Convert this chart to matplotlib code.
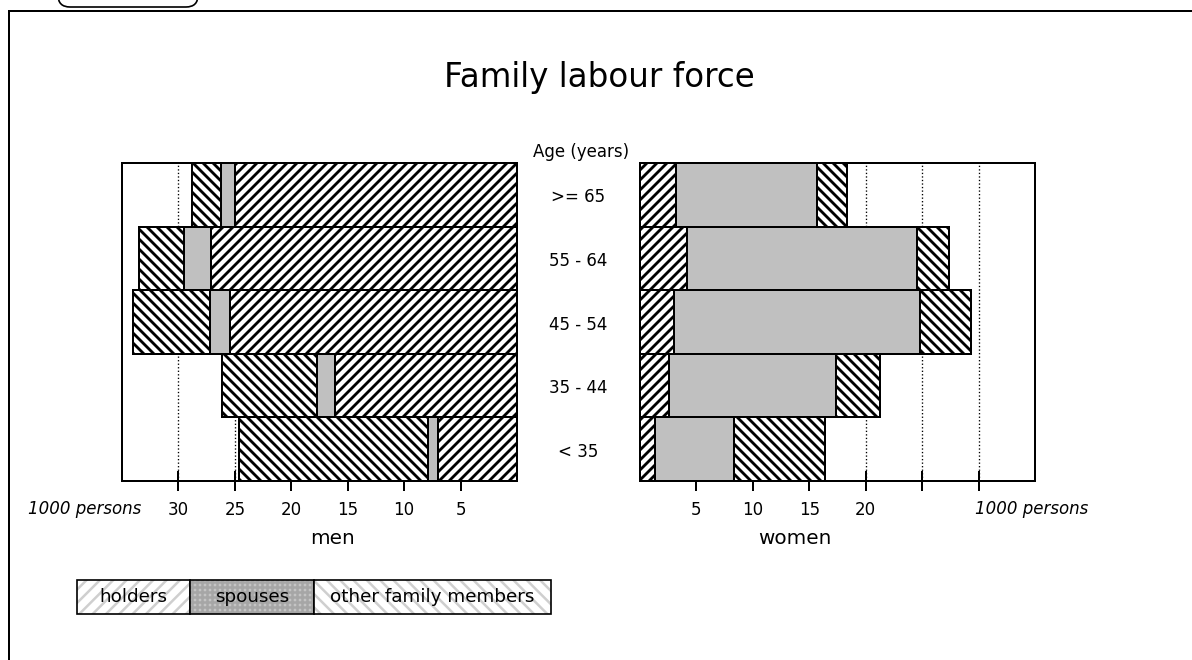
import matplotlib
matplotlib.use("Agg")
import matplotlib.pyplot as plt
from matplotlib.patches import Rectangle, FancyBboxPatch
from matplotlib.lines import Line2D
from matplotlib.transforms import IdentityTransform, blended_transform_factory

# values in 1000 persons, bottom row first
age_groups = ['< 35', '35 - 44', '45 - 54', '55 - 64', '>= 65']
men_holders = [7.0, 16.1, 25.4, 27.1, 25.0]
men_spouses = [0.9, 1.6, 1.8, 2.4, 1.2]
men_others = [16.7, 8.4, 6.8, 4.0, 2.6]
women_holders = [1.35, 2.6, 3.0, 4.2, 3.2]
women_spouses = [6.95, 14.8, 21.8, 20.3, 12.5]
women_others = [8.1, 3.9, 4.5, 2.9, 2.6]
ticks = [5, 10, 15, 20, 25, 30]
men_ticklabels = ['5', '10', '15', '20', '25', '30']
women_ticklabels = ['5', '10', '15', '20', '', '']
legend_labels = ['holders', 'spouses', 'other family members']

W, H, DPI = 1192, 660, 120
plt.rcParams['font.family'] = ['DejaVu Sans']
plt.rcParams['hatch.linewidth'] = 1.7

fig = plt.figure(figsize=(W / DPI, H / DPI), dpi=DPI)


def fx(x):
    return x / W


def fy(y):
    return 1 - y / H


def draw_side(ax, holders, spouses, others, labels):
    y = range(len(age_groups))
    left3 = [h + s for h, s in zip(holders, spouses)]
    ax.barh(y, holders, height=1.0, color='white', edgecolor='black',
            hatch='////', linewidth=1.2, zorder=2)
    ax.barh(y, spouses, left=holders, height=1.0, color='#c0c0c0',
            edgecolor='black', linewidth=1.2, zorder=2)
    ax.barh(y, others, left=left3, height=1.0, color='white', edgecolor='black',
            hatch='\\\\\\\\', linewidth=1.2, zorder=2)
    ax.set_ylim(-0.5, len(age_groups) - 0.5)
    ax.set_yticks([])
    ax.set_xticks(ticks)
    ax.set_xticklabels(labels)
    ax.tick_params(axis='x', direction='inout', length=12, width=1.2,
                   pad=6, labelsize=10)
    ax.grid(axis='x', linestyle=':', color='black', linewidth=0.8, zorder=0)
    ax.set_axisbelow(True)
    for sp in ax.spines.values():
        sp.set_linewidth(1.2)


ax_m = fig.add_axes([fx(122), fy(481), fx(517) - fx(122), fy(163) - fy(481)])
draw_side(ax_m, men_holders, men_spouses, men_others, men_ticklabels)
ax_m.set_xlim(35, 0)

ax_w = fig.add_axes([fx(640), fy(481), fx(1035) - fx(640), fy(163) - fy(481)])
draw_side(ax_w, women_holders, women_spouses, women_others, women_ticklabels)
ax_w.set_xlim(0, 35)

# texts
fig.text(fx(599), fy(78), 'Family labour force', fontsize=19.5, ha='center', va='center')
fig.text(fx(581), fy(152), 'Age (years)', fontsize=10, ha='center', va='center')
row_tr = blended_transform_factory(fig.transFigure, ax_m.transData)
for i, g in enumerate(age_groups):
    fig.text(fx(578), i - 0.04, g, fontsize=10, ha='center', va='center', transform=row_tr)

fig.text(fx(85), fy(509), '1000 persons', fontsize=10, style='italic', ha='center', va='center')
fig.text(fx(1032), fy(509), '1000 persons', fontsize=10, style='italic', ha='center', va='center')
fig.text(fx(332), fy(538), 'men', fontsize=12, ha='center', va='center')
fig.text(fx(795), fy(538), 'women', fontsize=12, ha='center', va='center')

# legend cells
cell_x = [77, 189.5, 314, 551]
cell_style = [('white', '#cfcfcf', '///'), ('#c4c4c4', '#a6a6a6', '++++'),
              ('white', '#cfcfcf', '\\\\\\')]
with plt.rc_context({'hatch.linewidth': 1.5}):
    for i, lab in enumerate(legend_labels):
        x0, x1 = cell_x[i], cell_x[i + 1]
        fc, hc, hp = cell_style[i]
        fig.add_artist(Rectangle((fx(x0), fy(614.3)), fx(x1) - fx(x0), fy(579.5) - fy(614.3),
                                 transform=fig.transFigure, facecolor=fc, edgecolor=hc,
                                 hatch=hp, linewidth=0))
        fig.add_artist(Rectangle((fx(x0), fy(614.3)), fx(x1) - fx(x0), fy(579.5) - fy(614.3),
                                 transform=fig.transFigure, facecolor='none',
                                 edgecolor='black', linewidth=1.0))
        fig.text(fx((x0 + x1) / 2), fy(597), lab, fontsize=11, ha='center', va='center')

# page frame and tab
fig.add_artist(Line2D([fx(9), fx(9)], [fy(11), 0], color='black', linewidth=1.2))
fig.add_artist(Line2D([fx(9), 1], [fy(11), fy(11)], color='black', linewidth=1.2))
fig.add_artist(FancyBboxPatch((58, H - 7), 140, 40, boxstyle='round,pad=0,rounding_size=12',
                              transform=IdentityTransform(), facecolor='white',
                              edgecolor='black', linewidth=1.0))

fig.savefig('out.png', dpi=DPI)
